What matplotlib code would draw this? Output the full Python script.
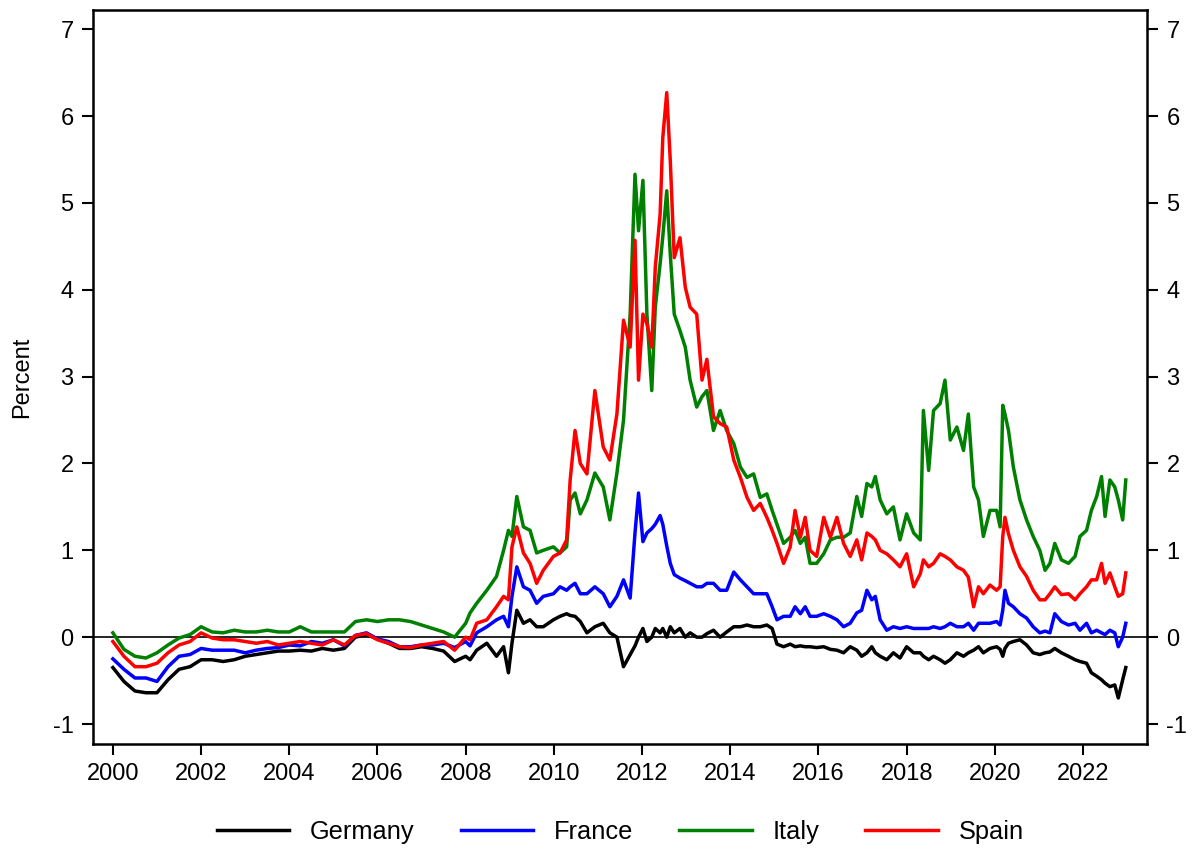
import matplotlib.pyplot as plt
import matplotlib.ticker as mticker

plt.rcParams['font.family'] = ['Liberation Sans', 'DejaVu Sans']

years = [2000.0, 2000.25, 2000.5, 2000.75, 2001.0, 2001.25, 2001.5, 2001.75,
         2002.0, 2002.25, 2002.5, 2002.75, 2003.0, 2003.25, 2003.5, 2003.75,
         2004.0, 2004.25, 2004.5, 2004.75, 2005.0, 2005.25, 2005.5, 2005.75,
         2006.0, 2006.25, 2006.5, 2006.75, 2007.0, 2007.25, 2007.5, 2007.75,
         2008.0, 2008.1, 2008.25, 2008.48, 2008.7, 2008.86, 2008.97, 2009.05,
         2009.16, 2009.31, 2009.46, 2009.61, 2009.76, 2009.99, 2010.14, 2010.29,
         2010.37, 2010.48, 2010.6, 2010.75, 2010.93, 2011.12, 2011.27, 2011.43,
         2011.58, 2011.73, 2011.84, 2011.92, 2012.02, 2012.11, 2012.22, 2012.3,
         2012.41, 2012.47, 2012.56, 2012.64, 2012.73, 2012.86, 2012.98, 2013.09,
         2013.24, 2013.36, 2013.47, 2013.62, 2013.77, 2013.92, 2014.08, 2014.23,
         2014.38, 2014.53, 2014.68, 2014.83, 2014.95, 2015.06, 2015.21, 2015.36,
         2015.47, 2015.59, 2015.7, 2015.81, 2015.96, 2016.12, 2016.27, 2016.42,
         2016.57, 2016.72, 2016.87, 2016.98, 2017.1, 2017.21, 2017.29, 2017.4,
         2017.55, 2017.7, 2017.85, 2018.0, 2018.16, 2018.31, 2018.38, 2018.5,
         2018.61, 2018.76, 2018.87, 2018.99, 2019.14, 2019.29, 2019.4, 2019.52,
         2019.63, 2019.74, 2019.89, 2020.04, 2020.12, 2020.18, 2020.23, 2020.31,
         2020.42, 2020.57, 2020.72, 2020.87, 2021.02, 2021.14, 2021.25, 2021.36,
         2021.51, 2021.67, 2021.82, 2021.93, 2022.08, 2022.19, 2022.31, 2022.42,
         2022.5, 2022.61, 2022.72, 2022.8, 2022.9, 2022.97]

germany = [-0.35, -0.51, -0.62, -0.64, -0.64, -0.49, -0.37, -0.34,
           -0.26, -0.26, -0.28, -0.26, -0.22, -0.20, -0.18, -0.16,
           -0.16, -0.15, -0.16, -0.13, -0.15, -0.13, 0.0, 0.03,
           -0.02, -0.07, -0.13, -0.13, -0.11, -0.13, -0.16, -0.28,
           -0.22, -0.26, -0.15, -0.07, -0.22, -0.11, -0.41, -0.07,
           0.31, 0.16, 0.20, 0.12, 0.12, 0.20, 0.24, 0.27,
           0.25, 0.24, 0.18, 0.05, 0.12, 0.16, 0.05, 0.0,
           -0.34, -0.20, -0.10, 0.0, 0.10, -0.05, 0.0, 0.10,
           0.05, 0.10, 0.0, 0.12, 0.05, 0.10, 0.0, 0.05,
           0.0, 0.0, 0.04, 0.08, 0.0, 0.06, 0.12, 0.12,
           0.14, 0.12, 0.12, 0.14, 0.10, -0.08, -0.11, -0.08,
           -0.11, -0.10, -0.11, -0.11, -0.12, -0.11, -0.14, -0.15,
           -0.18, -0.11, -0.15, -0.22, -0.18, -0.11, -0.18, -0.22,
           -0.26, -0.18, -0.24, -0.11, -0.18, -0.18, -0.22, -0.26,
           -0.22, -0.26, -0.30, -0.26, -0.18, -0.22, -0.18, -0.15,
           -0.11, -0.18, -0.13, -0.11, -0.14, -0.22, -0.13, -0.07,
           -0.05, -0.03, -0.09, -0.18, -0.20, -0.18, -0.17, -0.13,
           -0.18, -0.22, -0.26, -0.28, -0.30, -0.41, -0.45, -0.49,
           -0.53, -0.57, -0.55, -0.70, -0.49, -0.35]

france = [-0.25, -0.37, -0.47, -0.47, -0.51, -0.34, -0.22, -0.20,
          -0.13, -0.15, -0.15, -0.15, -0.18, -0.15, -0.13, -0.12,
          -0.09, -0.10, -0.05, -0.07, -0.03, -0.10, 0.02, 0.05,
          -0.02, -0.05, -0.11, -0.11, -0.09, -0.09, -0.07, -0.12,
          -0.05, -0.10, 0.05, 0.12, 0.20, 0.24, 0.12, 0.47,
          0.81, 0.58, 0.54, 0.39, 0.47, 0.50, 0.58, 0.54,
          0.58, 0.62, 0.50, 0.50, 0.58, 0.50, 0.35, 0.47,
          0.66, 0.45, 1.20, 1.66, 1.10, 1.20, 1.25, 1.30,
          1.40, 1.30, 1.05, 0.85, 0.72, 0.68, 0.65, 0.62,
          0.58, 0.58, 0.62, 0.62, 0.54, 0.54, 0.75, 0.66,
          0.58, 0.50, 0.50, 0.50, 0.35, 0.20, 0.24, 0.24,
          0.35, 0.27, 0.35, 0.24, 0.24, 0.27, 0.24, 0.20,
          0.12, 0.16, 0.28, 0.31, 0.54, 0.43, 0.47, 0.20,
          0.08, 0.12, 0.10, 0.12, 0.10, 0.10, 0.10, 0.10,
          0.12, 0.10, 0.12, 0.16, 0.12, 0.12, 0.16, 0.08,
          0.16, 0.16, 0.16, 0.18, 0.14, 0.31, 0.54, 0.39,
          0.35, 0.27, 0.22, 0.12, 0.05, 0.07, 0.05, 0.27,
          0.18, 0.14, 0.16, 0.08, 0.16, 0.05, 0.08, 0.05,
          0.03, 0.08, 0.05, -0.11, 0.0, 0.16]

italy = [0.05, -0.14, -0.22, -0.24, -0.18, -0.09, -0.01, 0.03,
         0.12, 0.06, 0.05, 0.08, 0.06, 0.06, 0.08, 0.06,
         0.06, 0.12, 0.06, 0.06, 0.06, 0.06, 0.18, 0.20,
         0.18, 0.20, 0.20, 0.18, 0.14, 0.10, 0.06, 0.0,
         0.16, 0.28, 0.39, 0.54, 0.70, 1.0, 1.23, 1.16,
         1.62, 1.27, 1.23, 0.97, 1.0, 1.04, 0.97, 1.04,
         1.58, 1.66, 1.42, 1.58, 1.89, 1.73, 1.35, 1.89,
         2.50, 3.72, 5.33, 4.68, 5.26, 3.72, 2.84, 3.80,
         4.30, 4.61, 5.14, 4.41, 3.72, 3.53, 3.34, 2.96,
         2.65, 2.77, 2.84, 2.38, 2.61, 2.38, 2.23, 1.96,
         1.84, 1.88, 1.61, 1.65, 1.46, 1.30, 1.08, 1.15,
         1.23, 1.08, 1.15, 0.85, 0.85, 0.96, 1.12, 1.15,
         1.15, 1.20, 1.62, 1.39, 1.77, 1.73, 1.85, 1.58,
         1.42, 1.50, 1.12, 1.42, 1.20, 1.12, 2.61, 1.92,
         2.61, 2.69, 2.96, 2.27, 2.42, 2.15, 2.57, 1.73,
         1.58, 1.16, 1.46, 1.46, 1.27, 2.67, 2.57, 2.38,
         1.96, 1.58, 1.35, 1.16, 1.0, 0.77, 0.85, 1.08,
         0.89, 0.85, 0.93, 1.16, 1.23, 1.46, 1.62, 1.85,
         1.39, 1.81, 1.73, 1.58, 1.35, 1.81]

spain = [-0.05, -0.22, -0.34, -0.34, -0.30, -0.18, -0.09, -0.05,
         0.05, -0.01, -0.03, -0.03, -0.05, -0.07, -0.05, -0.09,
         -0.07, -0.05, -0.07, -0.09, -0.03, -0.09, 0.02, 0.04,
         -0.03, -0.07, -0.11, -0.12, -0.09, -0.07, -0.05, -0.15,
         0.0, -0.03, 0.16, 0.20, 0.35, 0.47, 0.43, 1.04,
         1.27, 0.97, 0.85, 0.62, 0.77, 0.93, 0.97, 1.12,
         1.81, 2.38, 2.0, 1.88, 2.84, 2.19, 2.04, 2.57,
         3.65, 3.34, 4.57, 2.96, 3.72, 3.61, 3.34, 4.26,
         4.87, 5.75, 6.27, 5.49, 4.37, 4.60, 4.03, 3.80,
         3.72, 2.96, 3.20, 2.54, 2.46, 2.42, 2.04, 1.84,
         1.61, 1.46, 1.54, 1.38, 1.23, 1.08, 0.85, 1.04,
         1.46, 1.15, 1.38, 1.0, 0.93, 1.38, 1.15, 1.38,
         1.08, 0.93, 1.12, 0.89, 1.20, 1.16, 1.12, 1.0,
         0.96, 0.89, 0.81, 0.96, 0.58, 0.73, 0.89, 0.81,
         0.85, 0.96, 0.93, 0.89, 0.81, 0.77, 0.69, 0.35,
         0.58, 0.50, 0.60, 0.54, 0.58, 1.16, 1.38, 1.19,
         1.0, 0.81, 0.70, 0.54, 0.43, 0.43, 0.50, 0.58,
         0.49, 0.50, 0.43, 0.50, 0.58, 0.66, 0.66, 0.85,
         0.62, 0.74, 0.58, 0.47, 0.50, 0.74]

countries = ['Germany', 'France', 'Italy', 'Spain']
colors = ['black', 'blue', 'green', 'red']
tick_years = list(range(2000, 2023, 2))

fig = plt.figure(figsize=(11.93, 8.49), dpi=100)
ax = fig.add_axes([0.078, 0.1237, 0.8834, 0.8643])

for name, vals, col in zip(countries, [germany, france, italy, spain], colors):
    ax.plot(years, vals, color=col, lw=2.5, label=name)

ax.axhline(0, color='black', lw=1.2, zorder=0)

ax.set_xlim(1999.55, 2023.45)
ax.set_ylim(-1.23, 7.22)
ax.set_xticks(tick_years)
ax.set_xticklabels([str(y) for y in tick_years])
ax.set_yticks(range(-1, 8))
ax.yaxis.set_major_formatter(mticker.FuncFormatter(lambda v, p: '%d' % v))
ax.tick_params(direction='out', length=8, width=1.5, labelsize=17, pad=6,
               right=True, labelright=True)
for s in ax.spines.values():
    s.set_linewidth(1.8)
ax.set_ylabel('Percent', fontsize=17, labelpad=14)

# legend sits under the middle of the axes, not the figure
fig.legend(loc='center', bbox_to_anchor=(0.52, 0.02), ncol=4, frameon=False,
           fontsize=18.3, handlelength=2.85, handletextpad=0.83, columnspacing=1.8)

fig.savefig('out.png', dpi=100)
